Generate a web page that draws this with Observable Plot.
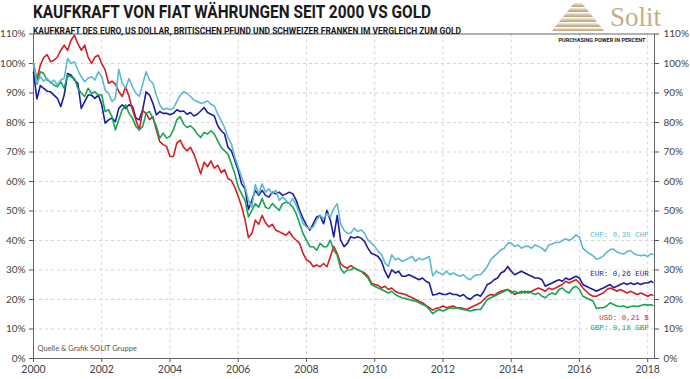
<!DOCTYPE html>
<html><head><meta charset="utf-8">
<script src="https://cdn.jsdelivr.net/npm/d3@7"></script>
<script src="https://cdn.jsdelivr.net/npm/@observablehq/plot@0.6"></script>
<style>
html,body{margin:0;padding:0;background:#fff;}
#wrap{position:relative;width:690px;height:379px;overflow:hidden;background:#fff;}
#chart{position:absolute;left:0;top:0;}
#title{position:absolute;left:33px;top:3px;font:700 18px/18px Roboto,sans-serif;color:#1a1a1a;white-space:nowrap;transform-origin:0 0;}
#subtitle{position:absolute;left:33px;top:26.5px;font:700 9px/9px Roboto,sans-serif;color:#1a1a1a;white-space:nowrap;transform-origin:0 0;}
#logo{position:absolute;left:552px;top:2px;}
#brand{position:absolute;left:610px;top:2px;font:27px/30px "Liberation Serif",serif;color:#c4ad84;}
</style></head>
<body>
<div id="wrap">
  <div id="chart"></div>
  <div id="title">KAUFKRAFT VON FIAT WÄHRUNGEN SEIT 2000 VS GOLD</div>
  <div id="subtitle">KAUFKRAFT DES EURO, US DOLLAR, BRITISCHEN PFUND UND SCHWEIZER FRANKEN IM VERGLEICH ZUM GOLD</div>
  <svg id="logo" width="52" height="30" viewBox="0 0 52 30">
    <defs>
      <linearGradient id="g1" x1="0" x2="0" y1="0" y2="1">
        <stop offset="0" stop-color="#f1e9da"/><stop offset="1" stop-color="#b59d74"/>
      </linearGradient>
    </defs>
    <polygon points="22,1 30,1 33,5 19,5" fill="url(#g1)"/>
    <polygon points="18,6 34,6 37,10 15,10" fill="url(#g1)"/>
    <polygon points="14,11 38,11 41,15 11,15" fill="url(#g1)"/>
    <polygon points="10,16 42,16 45,20 7,20" fill="url(#g1)"/>
    <polygon points="6,21 46,21 49,25 3,25" fill="url(#g1)"/>
    <polygon points="2,26 50,26 52,29 0,29" fill="url(#g1)"/>
  </svg>
  <div id="brand">Solit</div>
</div>
<script>
// ---- data ----
const years = [
2000.0,2000.1,2000.2,2000.3,2000.4,2000.5,2000.6,2000.7,2000.8,2000.9,
2001.0,2001.1,2001.2,2001.3,2001.4,2001.5,2001.6,2001.7,2001.8,2001.9,
2002.0,2002.1,2002.2,2002.3,2002.4,2002.5,2002.6,2002.7,2002.8,2002.9,
2003.0,2003.1,2003.2,2003.3,2003.4,2003.5,2003.6,2003.7,2003.8,2003.9,
2004.0,2004.1,2004.2,2004.3,2004.4,2004.5,2004.6,2004.7,2004.8,2004.9,
2005.0,2005.1,2005.2,2005.3,2005.4,2005.5,2005.6,2005.7,2005.8,2005.9,
2006.0,2006.1,2006.2,2006.3,2006.4,2006.5,2006.6,2006.7,2006.8,2006.9,
2007.0,2007.1,2007.2,2007.3,2007.4,2007.5,2007.6,2007.7,2007.8,2007.9,
2008.0,2008.1,2008.2,2008.3,2008.4,2008.5,2008.6,2008.7,2008.8,2008.9,
2009.0,2009.1,2009.2,2009.3,2009.4,2009.5,2009.6,2009.7,2009.8,2009.9,
2010.0,2010.1,2010.2,2010.3,2010.4,2010.5,2010.6,2010.7,2010.8,2010.9,
2011.0,2011.1,2011.2,2011.3,2011.4,2011.5,2011.6,2011.7,2011.8,2011.9,
2012.0,2012.1,2012.2,2012.3,2012.4,2012.5,2012.6,2012.7,2012.8,2012.9,
2013.0,2013.1,2013.2,2013.3,2013.4,2013.5,2013.6,2013.7,2013.8,2013.9,
2014.0,2014.1,2014.2,2014.3,2014.4,2014.5,2014.6,2014.7,2014.8,2014.9,
2015.0,2015.1,2015.2,2015.3,2015.4,2015.5,2015.6,2015.7,2015.8,2015.9,
2016.0,2016.1,2016.2,2016.3,2016.4,2016.5,2016.6,2016.7,2016.8,2016.9,
2017.0,2017.1,2017.2,2017.3,2017.4,2017.5,2017.6,2017.7,2017.8,2017.9,
2018.0,2018.1,2018.15];

const usd = [
100,94.5,99.5,102,103,100.6,101.1,102.2,104.5,106.2,
104.5,107.9,109.6,106.7,104.5,106.2,102.2,100,102.2,102.8,
100,97.8,93.3,94,93,90.5,88.8,92.1,88.8,84.3,
80.9,77.5,84,83.1,81,82,77.5,73.5,72.5,71.9,
68.5,68.5,73,74,71.6,70.4,71.6,69.3,66.0,62.6,
66.5,65,67,64.5,65.5,63,64,61,60.3,58,
55,51.5,47,41,42.4,46.9,45.5,48.5,46,44.6,
45.5,43.5,43,42.4,41.8,43,41.2,40.1,39,35.6,
33.4,32.8,31.1,31.7,31.1,32.2,31.1,34.5,38,35.6,
32.2,31.1,30.6,31.5,30.7,30.1,29.6,29.0,27.9,25.6,
25.1,24.8,23.9,24.5,23.4,23.9,22.8,22.2,22.0,21.7,
21.1,20.6,20.0,19.4,18.9,18.0,17.2,16.4,17.0,17.2,
17.8,17.2,17.5,17.8,17.2,17.2,16.9,16.6,17.2,17.8,
18.3,18.9,20.0,21.1,21.7,21.4,22.2,22.8,23.1,23.4,
22.8,21.7,22.2,22.2,22.8,22.2,22.8,23.4,23.9,23.4,
22.8,23.9,23.4,23.9,24.5,25.1,26.2,25.6,26.2,26.7,
25.6,23.9,22.8,21.7,21.1,21.1,21.7,22.2,23.4,23.9,
23.4,22.8,23.4,22.8,22.2,22.8,22.2,21.7,22.2,21.7,
21.1,21.7,21.4];

const chf = [
100,93.5,95.5,94.0,95.0,93.3,94.4,92.7,94.4,95.0,
101.7,100.0,100.6,97.8,95.5,93.8,95.0,95.5,94.4,97.2,
95.5,91.0,89.9,87.1,88.2,98.0,93.3,91.6,94.9,92.1,
89.9,88.8,93.0,97.2,94.4,93.3,89.3,86.0,84.3,84.8,
84.3,84.8,87.1,89.3,90.4,89.9,88.8,87.6,87.1,86.5,
86.7,87.3,86.2,85.6,82.8,80.6,78.3,74.9,72.7,68.2,
64.8,61.5,58.1,53.6,51.3,59.0,55.8,59.2,56.4,57.5,
55.8,57.0,53.6,54.7,53.6,52.5,54.2,51.9,49.1,45.7,
44.6,44.0,44.6,46.9,48.5,47.4,49.1,48.0,50.8,52.5,
45.7,43.5,42.4,42.5,44.2,43.0,43.6,42.5,40.2,39.1,
38.0,36.3,35.2,32.4,31.2,35.2,33.5,34.0,32.9,33.5,
34.0,34.6,32.9,34.0,33.5,34.0,34.6,28.0,29.6,29.0,
28.4,29.6,28.4,29.0,28.4,27.9,28.4,27.3,26.7,27.9,
28.4,28.4,29.6,31.2,33.5,34.6,35.7,36.9,37.4,39.1,
39.1,38.0,38.5,37.4,38.0,38.0,37.4,38.5,38.0,37.4,
36.3,38.5,38.8,39.3,39.3,40.0,40.6,40.0,40.8,41.9,
41.1,37.4,36.3,35.5,34.8,33.7,34.0,34.8,36.0,36.9,
37.1,36.1,35.7,35.4,36.3,36.6,35.5,35.1,34.8,35.1,
34.6,35.5,35.2];

const eur = [
97,88,92.5,91.6,90.6,90.4,89.3,88.2,85.4,89.3,
96.6,96.1,94.4,93.3,84.8,87.1,89.3,89.3,88.2,89.3,
86.0,79.8,80.9,81.5,80.3,84.8,86.0,84.8,86.0,85.4,
81.5,80.9,84.3,90.4,89.3,86.5,82.6,83.7,83.1,83.1,
82.6,83.1,84.3,83.7,83.9,82.8,83.4,82.2,82.8,83.9,
85.1,83.4,82.8,82.2,78.9,77.2,76.1,71.6,70.4,67.1,
63.7,59.2,57.5,50.5,53.6,57.0,55.3,57.0,55.3,54.7,
56.4,55.8,56.4,55.3,55.8,56.4,55.8,53.6,50.2,47.4,
45.2,43.5,45.7,48.0,48.5,45.7,50.2,46.9,41.2,48.5,
40.1,37.9,39.0,41.3,40.8,41.3,40.8,39.7,37.4,35.7,
35.2,34.6,32.9,29.6,27.3,30.1,29.0,29.6,27.9,27.9,
28.4,27.9,27.3,26.7,27.3,26.2,25.6,21.5,21.7,22.2,
21.7,21.7,22.2,21.7,21.7,21.1,21.7,20.6,20.0,21.1,
21.7,21.1,22.8,25.1,25.6,26.7,27.3,29.0,29.6,31.2,
29.6,28.4,29.0,29.6,29.0,28.4,27.9,27.3,27.3,26.7,
24.5,25.1,25.6,26.2,26.7,26.2,27.3,26.7,27.3,27.9,
27.3,25.1,24.5,23.9,23.4,22.8,23.4,23.9,24.5,25.1,
24.0,24.5,25.1,25.6,25.1,25.6,25.1,25.6,25.1,25.6,
25.6,26.2,25.8];

const gbp = [
100,93,97.2,96.6,94.4,93.8,92.7,92.1,93.8,91.6,
96.1,95.5,94.9,91.6,89.9,88.8,91.6,89.9,90.4,89.3,
89.3,83.7,84.3,82.0,77.5,80.9,84.3,86.0,83.1,81.5,
78.7,77.5,78.7,83.1,83.7,81.5,78.7,74.7,76.4,74.7,
75.3,77.5,80.9,82.0,79.4,78.3,78.9,77.8,76.1,74.9,
76.6,76.1,77.2,76.1,73.8,71.6,70.4,69.3,66.0,62.6,
58.1,55.8,53.6,48.0,50.2,52.5,51.3,54.2,51.3,50.8,
52.5,51.3,50.2,52.5,53.0,52.5,51.3,49.1,45.7,42.4,
40.1,37.9,37.9,36.7,39.0,37.9,37.9,40.1,36.7,35.1,
30.5,29.0,30.0,30.1,30.7,30.1,29.6,28.4,27.3,25.1,
24.5,23.9,23.4,22.8,22.2,22.8,21.7,21.1,20.6,20.3,
20.0,19.7,19.4,18.9,18.3,17.8,16.6,15.2,16.1,16.6,
16.1,16.6,17.2,17.0,17.2,16.9,16.6,16.4,16.1,16.4,
16.6,16.6,18.3,20.0,20.6,21.1,21.7,22.2,22.8,23.4,
22.2,22.8,22.2,22.8,22.2,22.8,22.2,21.7,22.2,21.1,
20.6,21.7,22.2,21.7,23.4,23.9,22.8,22.2,23.9,24.5,
23.4,21.1,20.6,20.0,19.4,16.9,17.2,17.2,17.8,18.9,
18.3,17.8,17.6,17.8,17.2,17.6,17.8,17.6,18.0,18.3,
18.1,18.2,18.0];

const seriesNames = ["EUR", "USD", "GBP", "CHF"];
const seriesLabels = ["EUR: 0,26 EUR", "USD: 0,21 $", "GBP: 0,18 GBP", "CHF: 0,35 CHF"];
const yTicks = [0,10,20,30,40,50,60,70,80,90,100,110];
const xTicks = [2000,2002,2004,2006,2008,2010,2012,2014,2016,2018];
const topNote = "PURCHASING POWER IN PERCENT";
const sourceNote = "Quelle & Grafik SOLIT Gruppe";

// ---- build ----
const valuesBySeries = {EUR: eur, USD: usd, GBP: gbp, CHF: chf};
const colors = {EUR: "#1c1ca0", USD: "#d11f24", GBP: "#14a653", CHF: "#5db8d2"};
const labelDy = {EUR: -9, USD: 22, GBP: 22, CHF: -20};
for (const k of seriesNames) {
  if (valuesBySeries[k].length !== years.length) throw new Error(k + " length " + valuesBySeries[k].length + " vs " + years.length);
}
const rows = {};
for (const k of seriesNames) rows[k] = years.map((t, i) => ({year: t, value: valuesBySeries[k][i], series: k}));

const marks = [
  Plot.gridY(yTicks.filter(d => d > 0 && d < 110), {stroke: "#d4d4d4", strokeOpacity: 1, strokeDasharray: "3,3"}),
  Plot.gridX(xTicks.filter(d => d > 2000), {stroke: "#d4d4d4", strokeOpacity: 1, strokeDasharray: "3,3"}),
  Plot.axisY(yTicks, {anchor: "left", tickFormat: d => d + "%", tickSize: 4, tickPadding: 4, label: null, stroke: "#555", fontSize: 10}),
  Plot.axisY(yTicks, {anchor: "right", tickFormat: d => d + "%", tickSize: 4, tickPadding: 5, label: null, stroke: "#555", fontSize: 10}),
  Plot.axisX(xTicks, {anchor: "bottom", tickFormat: d => String(d), tickSize: 4, tickPadding: 3, label: null, stroke: "#555", fontSize: 10.5}),
  Plot.frame({stroke: "#666"})
];
for (const k of seriesNames) {
  marks.push(Plot.line(rows[k], {x: "year", y: "value", stroke: colors[k], strokeWidth: 1.6}));
}
seriesNames.forEach((k, i) => {
  const last = rows[k][rows[k].length - 1];
  marks.push(Plot.text([last], {x: "year", y: "value", text: () => seriesLabels[i], textAnchor: "end",
    dx: -4, dy: labelDy[k], fill: colors[k], fontFamily: "Liberation Mono, DejaVu Sans Mono, monospace", fontSize: 7.5}));
});
marks.push(Plot.text([topNote], {frameAnchor: "top-right", dx: -9, dy: 4, fontSize: 5.5, fontWeight: 700, fontFamily: "Roboto", fill: "#222"}));
marks.push(Plot.text([sourceNote], {frameAnchor: "bottom-left", dx: 4, dy: -8, fontSize: 7.5, fill: "#555", textAnchor: "start"}));

const chart = Plot.plot({
  width: 690, height: 379,
  marginTop: 33.5, marginBottom: 21, marginLeft: 33, marginRight: 36,
  x: {domain: [2000, 2018.2]},
  y: {domain: [0, 110]},
  style: {fontFamily: "Lato, sans-serif", fontSize: "10px", color: "#444", background: "transparent", overflow: "visible"},
  marks
});
document.getElementById("chart").appendChild(chart);

function fit(id, target) {
  const el = document.getElementById(id);
  const w = el.getBoundingClientRect().width;
  if (w > 0) el.style.transform = "scaleX(" + (target / w) + ")";
}
fit("title", 398);
fit("subtitle", 428);
</script>
</body></html>
